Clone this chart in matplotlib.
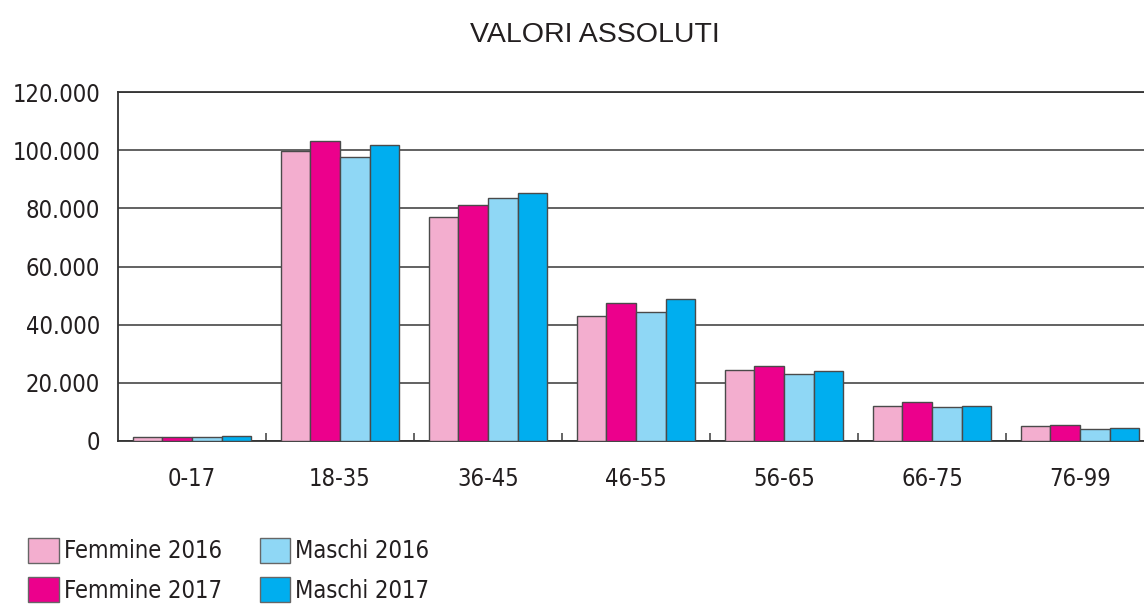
"""Absolute values by age band, women and men, 2016 vs 2017."""

import matplotlib.pyplot as plt
import numpy as np
from matplotlib.patches import Patch
from matplotlib.ticker import FuncFormatter

age_bands = ["0-17", "18-35", "36-45", "46-55", "56-65", "66-75", "76-99"]
femmine_2016 = [1500, 99700, 76900, 43100, 24500, 12100, 5100]
femmine_2017 = [1300, 103300, 81000, 47400, 25900, 13400, 5400]
maschi_2016 = [1300, 97800, 83700, 44200, 23200, 11600, 4100]
maschi_2017 = [1600, 101800, 85200, 48800, 24000, 12200, 4400]

series = [
    ("Femmine 2016", femmine_2016, "#f3aecf"),
    ("Femmine 2017", femmine_2017, "#ec008c"),
    ("Maschi 2016", maschi_2016, "#8fd7f5"),
    ("Maschi 2017", maschi_2017, "#00aeef"),
]

text_col = "#231f20"
edge = "#4a4a4a"
narrow = dict(family="DejaVu Sans", stretch="condensed", size=17, color=text_col)

fig = plt.figure(figsize=(11.44, 6.08), dpi=100)
# the plot runs past the right edge of the picture, as in the source
ax = fig.add_axes([118 / 1144, 167 / 608, 1036 / 1144, 349 / 608])

x = np.arange(len(age_bands))
width = 0.2
for i, (label, values, color) in enumerate(series):
    ax.bar(x + (i - 1.5) * width, values, width, color=color,
           edgecolor=edge, linewidth=1.0, zorder=3)

ax.set_xlim(-0.5, len(age_bands) - 0.5)
ax.set_ylim(0, 120000)
ax.set_yticks(range(0, 120001, 20000))
ax.yaxis.set_major_formatter(FuncFormatter(lambda v, _: f"{int(v):,}".replace(",", ".")))
ax.grid(axis="y", color="#555555", linewidth=1.3, zorder=0)
ax.tick_params(axis="y", length=0, pad=13)
for lab in ax.get_yticklabels():
    lab.set(**narrow)

ax.set_xticks(x)
ax.set_xticklabels(age_bands, **narrow)
ax.set_xticks(np.arange(0.5, len(age_bands) - 0.5), minor=True)
ax.tick_params(axis="x", which="major", length=0, pad=19)
ax.tick_params(axis="x", which="minor", direction="in", length=6,
               width=1.2, color=edge)

for side in ("left", "bottom", "top"):
    ax.spines[side].set_color("#333333")
    ax.spines[side].set_linewidth(1.3)
ax.spines["right"].set_visible(False)

fig.text(595 / 1144, 1 - 35 / 608, "VALORI ASSOLUTI", ha="center", va="center",
         family="Liberation Sans", fontsize=20.5, color=text_col)

handles = [Patch(facecolor=c, edgecolor="#666666", label=l) for l, _, c in series]
fig.legend(handles=handles, ncol=2, loc="lower left",
           bbox_to_anchor=(7 / 1144, -16 / 608), frameon=False,
           prop={"family": "DejaVu Sans", "stretch": "condensed", "size": 17},
           handlelength=1.3, handleheight=1.25, handletextpad=0.2,
           columnspacing=1.6, labelspacing=0.6, labelcolor=text_col)

fig.savefig("out.png", dpi=100)
